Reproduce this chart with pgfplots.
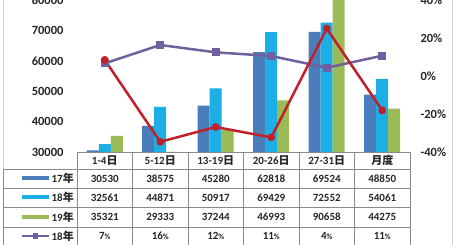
\documentclass[border=0pt]{standalone}
\usepackage{fontspec}
\setmainfont{Carlito}
\newfontfamily\cjk{Noto Sans CJK SC}
\usepackage{pgfplots}
\pgfplotsset{compat=1.18}
\definecolor{c17}{HTML}{4A7EBB}
\definecolor{c18}{HTML}{1DAEE6}
\definecolor{c19}{HTML}{9BBB59}
\definecolor{cpu}{HTML}{7060A0}
\definecolor{cre}{HTML}{C0202A}
\definecolor{tgrid}{HTML}{8A8A8A}
\definecolor{fgrid}{HTML}{D0D0D0}
\begin{document}
\begin{tikzpicture}[x=1pt,y=1pt]
\begin{axis}[at={(77pt,93pt)},anchor=south west,scale only axis,width=333pt,height=152pt,
  xmin=-0.5,xmax=5.5,ymin=30000,ymax=80000,
  ytick={30000,40000,50000,60000,70000,80000},
  yticklabels={30000,40000,50000,60000,70000,80000},
  xtick=\empty, axis line style={draw=none}, major tick length=0pt,
  ybar=0pt, bar width=12pt,
  yticklabel style={font=\fontsize{12.5}{14}\selectfont\bfseries, xshift=-10pt, text=black!85}]
\addplot[fill=c17,draw=none] coordinates {(0,30530)(1,38575)(2,45280)(3,62818)(4,69524)(5,48850)};
\addplot[fill=c18,draw=none] coordinates {(0,32561)(1,44871)(2,50917)(3,69429)(4,72552)(5,54061)};
\addplot[fill=c19,draw=none] coordinates {(0,35321)(1,29333)(2,37244)(3,46993)(4,90658)(5,44275)};
\end{axis}
\begin{axis}[at={(77pt,93pt)},anchor=south west,scale only axis,width=333pt,height=152pt,
  xmin=-0.5,xmax=5.5,ymin=-40,ymax=40,
  axis y line*=right, hide x axis,
  ytick={-40,-20,0,20,40},
  yticklabels={-40\%,-20\%,0\%,20\%,40\%},
  axis line style={draw=none}, major tick length=0pt,
  yticklabel style={font=\fontsize{12.5}{14}\selectfont\bfseries, xshift=7pt, text=black!85}]
\addplot[cpu, line width=2.5pt, mark=square*, mark size=2.6pt] coordinates {(0,6.65)(1,16.32)(2,12.45)(3,10.52)(4,4.35)(5,10.67)};
\addplot[cre, line width=2.5pt, mark=*, mark size=2.6pt] coordinates {(0,8.48)(1,-34.63)(2,-26.85)(3,-32.32)(4,24.96)(5,-18.10)};
\end{axis}
% chart border
\draw[fgrid, line width=0.8pt] (3,0)--(3,245);
\draw[fgrid, line width=0.8pt] (452,0)--(452,245);
% table
\draw[tgrid, line width=0.8pt] (77,93)--(410,93);
\foreach \yy in {76,57,38,18} {\draw[tgrid, line width=0.8pt] (3,\yy)--(410,\yy);}
\foreach \xx in {77,132.5,188,243.5,299,354.5,410} {\draw[tgrid, line width=0.8pt] (\xx,93)--(\xx,0);}
\draw[tgrid, line width=0.8pt] (3,76)--(3,0);
\begin{scope}[every node/.style={font=\fontsize{11}{13}\selectfont\bfseries, text=black!85, inner sep=0pt}]
\foreach \xx/\t in {104.75/1-4, 160.25/5-12, 215.75/13-19, 271.25/20-26, 326.75/27-31}
  {\node at (\xx,84.5) {\t\cjk{日}};}
\node at (382.25,84.5) {\cjk{月度}};
\foreach \xx/\a/\b/\c/\d in {104.75/30530/32561/35321/7, 160.25/38575/44871/29333/16, 215.75/45280/50917/37244/12, 271.25/62818/69429/46993/11, 326.75/69524/72552/90658/4, 382.25/48850/54061/44275/11}
  {\node at (\xx,66.5) {\a};
   \node at (\xx,47.5) {\b};
   \node at (\xx,28) {\c};
   \node at (\xx,9) {\d{\fontsize{8}{9}\selectfont\%}};}
\draw[c17, line width=4pt] (22,66.5)--(49,66.5);
\draw[c18, line width=4pt] (22,47.5)--(49,47.5);
\draw[c19, line width=4pt] (22,28)--(49,28);
\draw[cpu, line width=2.5pt] (22,9)--(49,9);
\fill[cpu] (33,6.4) rectangle (38.2,11.6);
\node[anchor=east] at (74,66.5) {17\cjk{年}};
\node[anchor=east] at (74,47.5) {18\cjk{年}};
\node[anchor=east] at (74,28) {19\cjk{年}};
\node[anchor=east] at (74,9) {18\cjk{年}};
\end{scope}
\pgfresetboundingbox
\path (0,0) rectangle (453,245);
\end{tikzpicture}
\end{document}
